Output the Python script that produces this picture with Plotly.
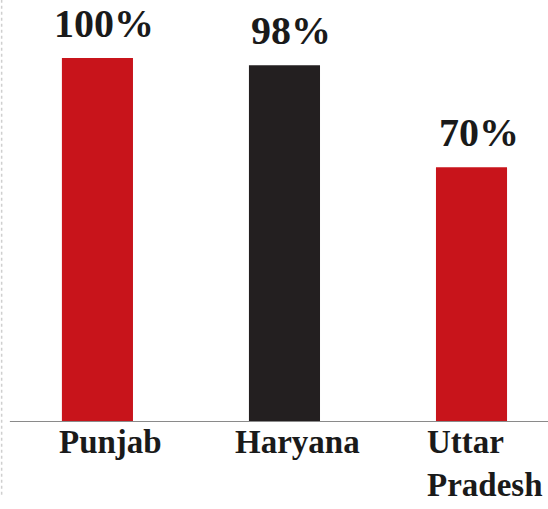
import plotly.graph_objects as go

states = ["Punjab", "Haryana", "Uttar Pradesh"]
state_labels = ["Punjab", "Haryana", "Uttar<br>Pradesh"]
shares = [100, 98, 70]
bar_colors = ["#c8141b", "#231f20", "#c8141b"]

FONT = "Liberation Serif"

fig = go.Figure(
    go.Bar(
        x=states,
        y=shares,
        marker=dict(color=bar_colors, line=dict(width=0)),
        width=0.38,
        hoverinfo="skip",
    )
)

# percentage labels above each bar
for s, v in zip(states, shares):
    fig.add_annotation(
        x=s, y=v, text=f"<b>{v}%</b>", showarrow=False,
        xanchor="center", yanchor="bottom", yshift=10, xshift=7,
        font=dict(family=FONT, size=40, color="#1a1a1a"),
    )

# state names under the baseline
for s, lab in zip(states, state_labels):
    fig.add_annotation(
        x=s, y=0, text=f"<b>{lab}</b>", showarrow=False,
        xanchor="center", yanchor="top", yshift=0, xshift=13, align="left",
        font=dict(family=FONT, size=33, color="#1a1a1a"),
    )

# baseline and left guide
fig.add_shape(type="line", xref="paper", yref="y", x0=0.018, x1=1, y0=0, y1=0,
              line=dict(color="#8a8a8a", width=2))
fig.add_shape(type="line", xref="paper", yref="paper", x0=0.003, x1=0.003, y0=-0.2, y1=1.2,
              line=dict(color="#cfcfcf", width=1.5, dash="dot"))

fig.update_layout(
    width=548, height=509,
    margin=dict(l=0, r=0, t=58, b=87),
    paper_bgcolor="white", plot_bgcolor="white",
    showlegend=False,
    xaxis=dict(range=[-0.521, 2.409], showticklabels=False, showgrid=False,
               zeroline=False, showline=False, ticks=""),
    yaxis=dict(range=[0, 100], visible=False, showgrid=False, zeroline=False),
)

fig.write_html("out.html")
